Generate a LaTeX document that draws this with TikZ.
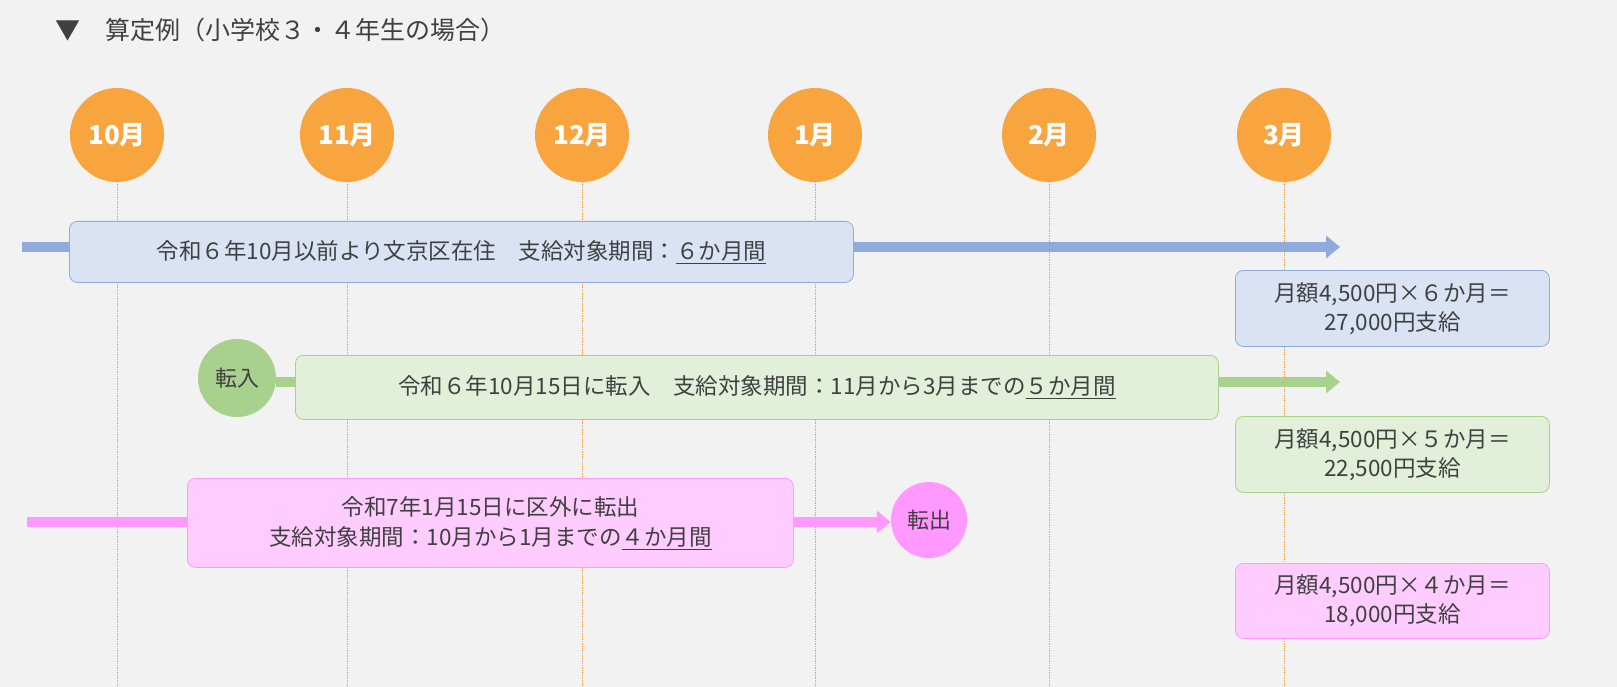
\documentclass[tikz,border=0pt]{standalone}
\usepackage{fontspec}
\setmainfont{Noto Sans CJK JP}
\usetikzlibrary{arrows.meta}
\definecolor{bg}{HTML}{F2F2F2}
\definecolor{orng}{HTML}{F8A43F}
\definecolor{txt}{HTML}{404040}
\definecolor{bl}{HTML}{8FAADC}
\definecolor{blf}{HTML}{DAE3F3}
\definecolor{gr}{HTML}{A9D18E}
\definecolor{grf}{HTML}{E2F0D9}
\definecolor{pk}{HTML}{FF99FF}
\definecolor{pkf}{HTML}{FFCCFF}
\begin{document}
\begin{tikzpicture}[x=1pt,y=-1pt,
  month/.style={circle,fill=orng,minimum size=94pt,inner sep=0pt,text=white,font=\bfseries\fontsize{26}{28}\selectfont},
  vline/.style={orng,densely dotted,line width=0.7pt},
  band/.style={rounded corners=8pt,draw=#1,line width=0.8pt,text=txt,font=\fontsize{22.5}{30}\selectfont,align=center,anchor=north west},
  fat/.style={line width=10pt,draw=#1,-{Triangle[length=14pt,width=22pt]}},
  res/.style={rounded corners=8pt,draw=#1,line width=0.8pt,text=txt,font=\fontsize{22.5}{29}\selectfont,align=center,minimum width=314pt,minimum height=76pt,inner sep=2pt,anchor=north west}]
\useasboundingbox (0,0) rectangle (1617,687);
\fill[bg] (0,0) rectangle (1617,687);
\node[anchor=west,text=txt,font=\fontsize{25}{28}\selectfont] (title) at (52,30) {▼\quad 算定例（小学校３・４年生の場合）};
\foreach \x/\m [count=\i] in {117/10月,347/11月,582/12月,815/1月,1049/2月,1284/3月}{
  \draw[vline] (\x,182) -- (\x,687);
  \node[month] (m\i) at (\x,135) {\m};
}
\coordinate (b0) at (22,247); \coordinate (b1) at (1340,247);
\draw[fat=bl] (b0) -- (b1);
\node[band=bl,fill=blf,minimum width=784pt,minimum height=61pt] (bbox) at (69,221) {令和６年10月以前より文京区在住\quad 支給対象期間：\underline{６か月間}};
\node[res=bl,fill=blf] (bres) at (1235,270) {月額4,500円×６か月＝\\27,000円支給};
\node[circle,fill=gr,minimum size=78pt,inner sep=0pt,text=txt,font=\fontsize{22}{24}\selectfont] (tin) at (237,378) {転入};
\coordinate (g1) at (1340,382);
\draw[fat=gr] (tin.east) ++(0,4) -- (g1);
\node[band=gr,fill=grf,minimum width=923pt,minimum height=64pt] (gbox) at (295,355) {令和６年10月15日に転入\quad 支給対象期間：11月から3月までの\underline{５か月間}};
\node[res=gr,fill=grf] (gres) at (1235,416) {月額4,500円×５か月＝\\22,500円支給};
\node[circle,fill=pk,minimum size=76pt,inner sep=0pt,text=txt,font=\fontsize{22}{24}\selectfont] (tout) at (929,520) {転出};
\coordinate (p0) at (27,522);
\draw[fat=pk] (p0) -- (tout.west|-p0);
\node[band=pk,fill=pkf,minimum width=606pt,minimum height=89pt] (pbox) at (187,478) {令和7年1月15日に区外に転出\\支給対象期間：10月から1月までの\underline{４か月間}};
\node[res=pk,fill=pkf,minimum height=75pt] (pres) at (1235,563) {月額4,500円×４か月＝\\18,000円支給};
\end{tikzpicture}
\end{document}
